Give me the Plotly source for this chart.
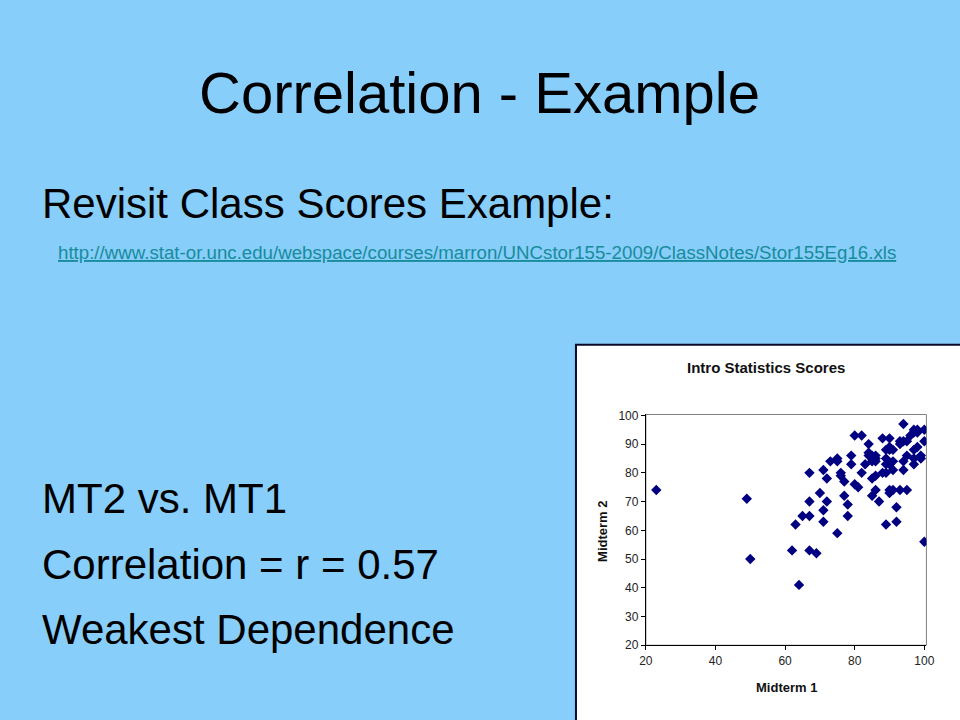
import plotly.graph_objects as go

# Data (Midterm 1, Midterm 2)
midterm1 = [23, 49, 50, 62, 63, 64, 65, 67, 67, 67, 67, 69, 70, 71, 71, 71, 72, 72, 73,
            75, 75, 75, 76, 76, 77, 77, 78, 78, 79, 79, 80, 80, 81, 82, 82, 83, 84, 84,
            84, 85, 85, 85, 86, 86, 86, 85, 85, 86, 86, 87, 88, 88, 89, 89, 89, 89, 89,
            90, 90, 90, 90, 90, 90, 91, 91, 91, 91, 92, 92, 93, 93, 93, 94, 94, 94, 94,
            95, 95, 95, 96, 97, 97, 97, 97, 97, 98, 98, 98, 99, 99, 100, 100, 100]
midterm2 = [74, 71, 50, 53, 62, 41, 65, 80, 70, 65, 53, 52, 73, 81, 67, 63, 78, 70, 84,
            85, 84, 59, 80, 79, 77, 72, 69, 65, 86, 83, 93, 76, 75, 93, 80, 83, 90, 87,
            86, 86, 85, 84, 86, 85, 84, 78, 72, 79, 74, 70, 92, 80, 88, 85, 83, 80, 62,
            92, 89, 88, 83, 74, 73, 88, 84, 81, 74, 68, 63, 91, 90, 74, 97, 91, 84, 81,
            91, 86, 74, 93, 95, 94, 88, 85, 83, 95, 94, 89, 86, 85, 95, 91, 56]

title_text = "Correlation - Example"
subtitle_text = "Revisit Class Scores Example:"
url_text = "http://www.stat-or.unc.edu/webspace/courses/marron/UNCstor155-2009/ClassNotes/Stor155Eg16.xls"
bullets = ["MT2 vs. MT1", "Correlation = r = 0.57", "Weakest Dependence"]
chart_title = "Intro Statistics Scores"
x_title = "Midterm 1"
y_title = "Midterm 2"

W, H = 960, 720
def px(x):
    return x / W
def py(y):
    return 1 - y / H

FONT = "Liberation Sans, Arial, sans-serif"

fig = go.Figure()
fig.add_trace(go.Scatter(
    x=midterm1, y=midterm2, mode="markers",
    marker=dict(symbol="diamond", size=8, color="#000080", line=dict(width=0)),
    hoverinfo="skip", showlegend=False,
))

shapes = [
    # white chart box
    dict(type="rect", xref="paper", yref="paper", x0=px(578), x1=px(975), y0=py(740), y1=py(345),
         fillcolor="white", line=dict(color="#0a0a28", width=2), layer="below"),
    # plot area border (gray)
    dict(type="rect", xref="x domain", yref="y domain", x0=0, x1=1, y0=0, y1=1,
         line=dict(color="#808080", width=1), layer="below"),
]

annotations = [
    dict(text=title_text, x=px(480), y=py(88), xref="paper", yref="paper",
         xanchor="center", yanchor="middle", showarrow=False,
         font=dict(family=FONT, size=58, color="black")),
    dict(text=subtitle_text, x=px(34), y=py(201), xref="paper", yref="paper",
         xanchor="left", yanchor="middle", showarrow=False,
         font=dict(family=FONT, size=42, color="black")),
    dict(text="<u>" + url_text + "</u>", x=px(50), y=py(251), xref="paper", yref="paper",
         xanchor="left", yanchor="middle", showarrow=False,
         font=dict(family=FONT, size=18.7, color="#178c9c")),
    dict(text=chart_title, x=px(771), y=py(368), xref="paper", yref="paper",
         xanchor="center", yanchor="middle", showarrow=False,
         font=dict(family=FONT, size=15, color="#111111", weight="bold")),
    dict(text=x_title, x=px(792), y=py(694), xref="paper", yref="paper",
         xanchor="center", yanchor="middle", showarrow=False,
         font=dict(family=FONT, size=13, color="#111111", weight="bold")),
    dict(text=y_title, x=px(605), y=py(535), xref="paper", yref="paper",
         xanchor="center", yanchor="middle", showarrow=False, textangle=-90,
         font=dict(family=FONT, size=13, color="#111111", weight="bold")),
]
for t, yy in zip(bullets, [502, 569, 635]):
    annotations.append(dict(text=t, x=px(34), y=py(yy), xref="paper", yref="paper",
                            xanchor="left", yanchor="middle", showarrow=False,
                            font=dict(family=FONT, size=42, color="black")))

fig.update_layout(
    width=W, height=H, margin=dict(l=0, r=0, t=0, b=0),
    paper_bgcolor="#87cefa", plot_bgcolor="rgba(0,0,0,0)",
    shapes=shapes, annotations=annotations,
    xaxis=dict(domain=[px(649), px(934)], range=[20, 100.6], tickvals=[20, 40, 60, 80, 100],
               showgrid=False, zeroline=False, showline=True, linecolor="black", linewidth=1,
               ticks="outside", ticklen=4, tickcolor="black",
               tickfont=dict(family=FONT, size=12, color="#222222")),
    yaxis=dict(domain=[py(651), py(416)], range=[20, 100.3], tickvals=list(range(20, 101, 10)),
               showgrid=False, zeroline=False, showline=True, linecolor="black", linewidth=1,
               ticks="outside", ticklen=4, tickcolor="black",
               tickfont=dict(family=FONT, size=12, color="#222222")),
)

fig.write_html("out.html", config={"displayModeBar": False},
               post_script="document.body.style.margin='0';document.body.style.padding='0';")
